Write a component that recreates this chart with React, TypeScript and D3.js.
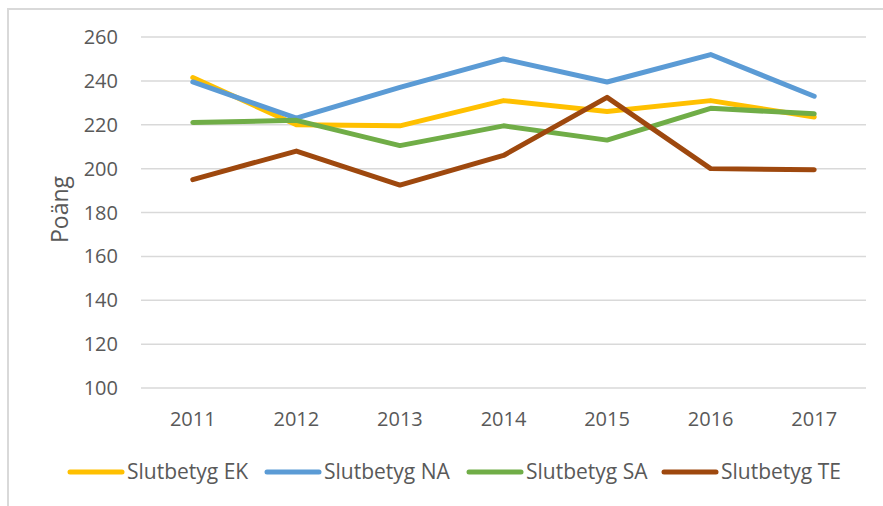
//line chart of final grade points per programme, drawn with d3
import React, { useEffect, useRef } from 'react';
import * as d3 from 'd3';

const years = ['2011', '2012', '2013', '2014', '2015', '2016', '2017'];
const ek = [241.5, 220, 219.5, 231, 226, 231, 223.5];
const na = [239.5, 223, 237, 250, 239.5, 252, 233];
const sa = [221, 222, 210.5, 219.5, 213, 227.5, 225];
const te = [195, 208, 192.5, 206, 232.5, 200, 199.5];
const seriesNames = ['Slutbetyg EK', 'Slutbetyg NA', 'Slutbetyg SA', 'Slutbetyg TE'];
const yTicks = [100, 120, 140, 160, 180, 200, 220, 240, 260];
const yTitle = 'Poäng';

const App = () => {
    const chartRef = useRef(null);

    useEffect(() => {
        document.body.style.margin = '0';
        const svg = d3.select(chartRef.current);
        svg.selectAll('*').remove();

        const font = "'Open Sans', 'Liberation Sans', sans-serif";
        const textColor = '#595959';
        const colors = ['#FFC000', '#5B9BD5', '#70AD47', '#9E480E'];
        const allSeries = [ek, na, sa, te];

        //chart frame
        svg.append('rect')
            .attr('x', 8).attr('y', 9)
            .attr('width', 900).attr('height', 520)
            .attr('fill', 'white')
            .attr('stroke', '#d9d9d9')
            .attr('stroke-width', 2);

        const left = 141, right = 866, top = 37, bottom = 388;

        const x = d3.scaleBand().domain(years).range([left, right]);
        const y = d3.scaleLinear().domain([100, 260]).range([bottom, top]);

        //gridlines
        svg.append('g')
            .selectAll('line')
            .data(yTicks)
            .enter()
            .append('line')
                .attr('x1', left).attr('x2', right)
                .attr('y1', d => y(d)).attr('y2', d => y(d))
                .attr('stroke', '#d9d9d9')
                .attr('stroke-width', 1.5);

        //y tick labels
        svg.append('g')
            .selectAll('text')
            .data(yTicks)
            .enter()
            .append('text')
                .attr('x', 118)
                .attr('y', d => y(d))
                .attr('dy', '0.35em')
                .attr('text-anchor', 'end')
                .style('font-family', font)
                .style('font-size', '20px')
                .attr('fill', textColor)
                .text(d => d);

        //x tick labels
        svg.append('g')
            .selectAll('text')
            .data(years)
            .enter()
            .append('text')
                .attr('x', d => x(d) + x.bandwidth() / 2)
                .attr('y', 419)
                .attr('dy', '0.35em')
                .attr('text-anchor', 'middle')
                .style('font-family', font)
                .style('font-size', '20px')
                .attr('fill', textColor)
                .text(d => d);

        //y axis title
        svg.append('text')
            .attr('transform', 'translate(60,' + ((top + bottom) / 2 - 3) + ') rotate(-90)')
            .attr('dy', '0.35em')
            .attr('text-anchor', 'middle')
            .style('font-family', font)
            .style('font-size', '23px')
            .attr('fill', textColor)
            .text(yTitle);

        //the lines
        const line = d3.line()
            .x((d, i) => x(years[i]) + x.bandwidth() / 2)
            .y(d => y(d));

        svg.append('g')
            .selectAll('path')
            .data(allSeries)
            .enter()
            .append('path')
                .attr('d', d => line(d))
                .attr('fill', 'none')
                .attr('stroke', (d, i) => colors[i])
                .attr('stroke-width', 5)
                .attr('stroke-linejoin', 'round')
                .attr('stroke-linecap', 'round');

        //legend
        const legendX = [68, 265, 467, 662];
        const legend = svg.append('g')
            .selectAll('g')
            .data(seriesNames)
            .enter()
            .append('g')
                .attr('transform', (d, i) => 'translate(' + legendX[i] + ',472)');
        legend.append('line')
            .attr('x1', 2).attr('x2', 54)
            .attr('stroke', (d, i) => colors[i])
            .attr('stroke-width', 5)
            .attr('stroke-linecap', 'round');
        legend.append('text')
            .attr('x', 59)
            .attr('dy', '0.35em')
            .style('font-family', font)
            .style('font-size', '21px')
            .attr('fill', textColor)
            .text(d => d);
    }, []);

    return (
        <svg ref={chartRef} width={883} height={506} style={{ display: 'block' }}></svg>
    );
};

export default App;
